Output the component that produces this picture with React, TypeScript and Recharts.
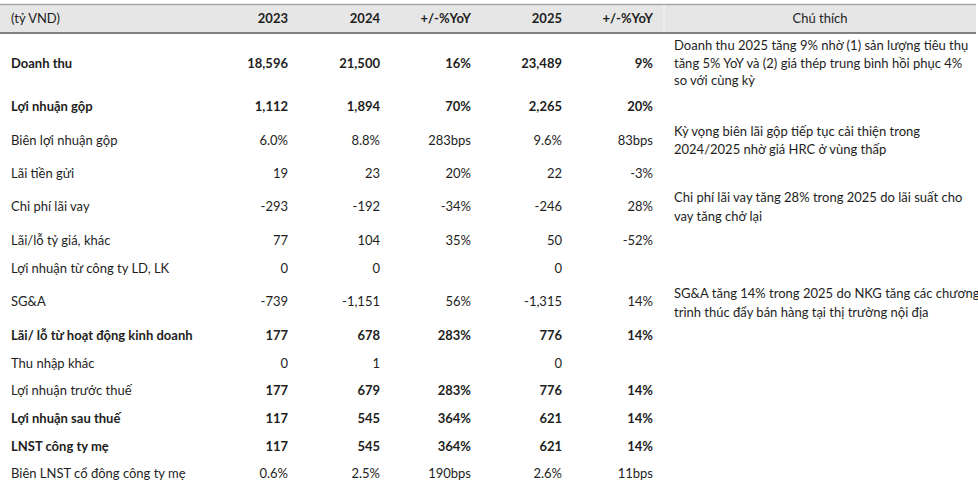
import React from "react";
import {
  ComposedChart,
  XAxis,
  YAxis,
  Scatter,
  ReferenceArea,
  ReferenceLine,
} from "recharts";

// ---------- data ----------
const headers = ["(tỷ VND)", "2023", "2024", "+/-%YoY", "2025", "+/-%YoY", "Chú thích"];

const categories = [
  "Doanh thu",
  "Lợi nhuận gộp",
  "Biên lợi nhuận gộp",
  "Lãi tiền gửi",
  "Chi phí lãi vay",
  "Lãi/lỗ tỷ giá, khác",
  "Lợi nhuận từ công ty LD, LK",
  "SG&A",
  "Lãi/ lỗ từ hoạt động kinh doanh",
  "Thu nhập khác",
  "Lợi nhuận trước thuế",
  "Lợi nhuận sau thuế",
  "LNST công ty mẹ",
  "Biên LNST cổ đông công ty mẹ",
];

const values2023 = ["18,596", "1,112", "6.0%", "19", "-293", "77", "0", "-739", "177", "0", "177", "117", "117", "0.6%"];
const values2024 = ["21,500", "1,894", "8.8%", "23", "-192", "104", "0", "-1,151", "678", "1", "679", "545", "545", "2.5%"];
const yoy2024 = ["16%", "70%", "283bps", "20%", "-34%", "35%", "", "56%", "283%", "", "283%", "364%", "364%", "190bps"];
const values2025 = ["23,489", "2,265", "9.6%", "22", "-246", "50", "0", "-1,315", "776", "0", "776", "621", "621", "2.6%"];
const yoy2025 = ["9%", "20%", "83bps", "-3%", "28%", "-52%", "", "14%", "14%", "", "14%", "14%", "14%", "11bps"];

const boldLabelRows = [true, true, false, false, false, false, false, false, true, false, false, true, true, false];
const boldValueRows = [true, true, false, false, false, false, false, false, true, false, true, true, true, false];

const noteLines = [
  "Doanh thu 2025 tăng 9% nhờ (1) sản lượng tiêu thụ",
  "tăng 5% YoY và (2) giá thép trung bình hồi phục 4%",
  "so với cùng kỳ",
  "Kỳ vọng biên lãi gộp tiếp tục cải thiện trong",
  "2024/2025 nhờ giá HRC ở vùng thấp",
  "Chi phí lãi vay tăng 28% trong 2025 do lãi suất cho",
  "vay tăng chở lại",
  "SG&A tăng 14% trong 2025 do NKG tăng các chương",
  "trình thúc đẩy bán hàng tại thị trường nội địa",
];

// ---------- layout (positions kept separate from data) ----------
const W = 978;
const H = 487;
const ROW_Y = [63, 106, 140, 173, 206, 240, 268, 301, 335, 363, 390, 418, 446, 473];
const NOTE_Y = [45, 63, 80, 131, 149, 197, 216, 293, 312];
const HEADER_Y = 18;
const LABEL_X = 11;
const COL_X = [288, 380, 471, 562, 653];
const NOTE_X = 674;
const NOTE_HEADER_X = 820;
const BASE_SHIFT = 4.5;

const FONT = "Lato, 'Noto Sans', sans-serif";
const FS = 13;
const COLOR = "#1e1e1e";

const makeTextShape = (anchor: "start" | "end" | "middle") => (props: any) => {
  const { cx, cy, payload } = props;
  if (!payload || !payload.text) return <g />;
  return (
    <text
      x={cx}
      y={cy + BASE_SHIFT}
      textAnchor={anchor}
      fontFamily={FONT}
      fontSize={FS}
      fontWeight={payload.bold ? 700 : 400}
      fill={COLOR}
    >
      {payload.text}
    </text>
  );
};

const columnData = [values2023, values2024, yoy2024, values2025, yoy2025];

const labelData = categories.map((t, i) => ({ x: LABEL_X, y: ROW_Y[i], text: t, bold: boldLabelRows[i] }));
const colSeries = columnData.map((col, c) =>
  col.map((t, i) => ({ x: COL_X[c], y: ROW_Y[i], text: t, bold: boldValueRows[i] }))
);
const headerLeft = [{ x: LABEL_X, y: HEADER_Y, text: headers[0], bold: false }];
const headerCols = headers.slice(1, 6).map((t, c) => ({ x: COL_X[c], y: HEADER_Y, text: t, bold: true }));
const headerNote = [{ x: NOTE_HEADER_X, y: HEADER_Y, text: headers[6], bold: false }];
const noteData = noteLines.map((t, i) => ({ x: NOTE_X, y: NOTE_Y[i], text: t, bold: false }));

export default function App() {
  return (
    <div style={{ position: "absolute", left: 0, top: 0, width: W, height: H, background: "#ffffff" }}>
      <ComposedChart width={W} height={H} margin={{ top: 0, right: 0, bottom: 0, left: 0 }}>
        <XAxis type="number" dataKey="x" domain={[0, W]} allowDataOverflow hide />
        <YAxis type="number" dataKey="y" domain={[0, H]} allowDataOverflow reversed hide />
        <ReferenceArea x1={0} x2={976} y1={5} y2={33} fill="#e6e6e6" fillOpacity={1} stroke="none" />
        <ReferenceLine
          segment={[{ x: 0, y: 4.5 }, { x: 976, y: 4.5 }]}
          stroke="#a8a8a8"
          strokeWidth={1.5}
        />
        <ReferenceLine
          segment={[{ x: 0, y: 33 }, { x: 976, y: 33 }]}
          stroke="#808080"
          strokeWidth={2}
        />
        <ReferenceLine
          segment={[{ x: 664, y: 5 }, { x: 664, y: 32 }]}
          stroke="#f7f7f7"
          strokeWidth={1}
        />
        <Scatter data={headerLeft} shape={makeTextShape("start")} isAnimationActive={false} />
        <Scatter data={headerCols} shape={makeTextShape("end")} isAnimationActive={false} />
        <Scatter data={headerNote} shape={makeTextShape("middle")} isAnimationActive={false} />
        <Scatter data={labelData} shape={makeTextShape("start")} isAnimationActive={false} />
        {colSeries.map((d, i) => (
          <Scatter key={i} data={d} shape={makeTextShape("end")} isAnimationActive={false} />
        ))}
        <Scatter data={noteData} shape={makeTextShape("start")} isAnimationActive={false} />
      </ComposedChart>
    </div>
  );
}
